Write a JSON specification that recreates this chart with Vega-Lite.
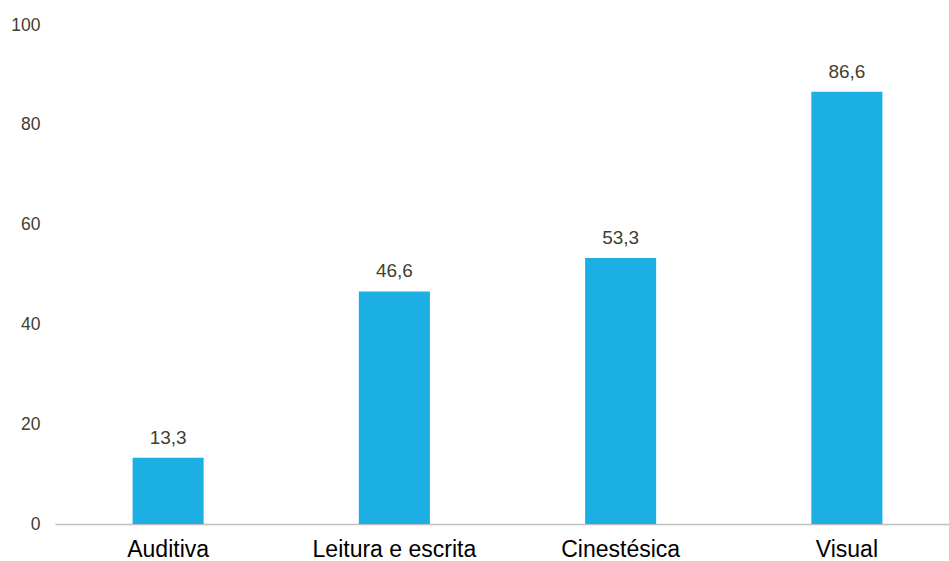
{
  "$schema": "https://vega.github.io/schema/vega-lite/v6.json",
  "autosize": "none",
  "width": 905,
  "height": 499,
  "padding": {"left": 55, "top": 25, "right": 0, "bottom": 37},
  "background": "white",
  "config": {
    "view": {"stroke": null},
    "font": "Liberation Sans",
    "locale": {
      "number": {"decimal": ",", "thousands": ".", "grouping": [3], "currency": ["", ""]}
    }
  },
  "data": {
    "values": [
      {"estilo": "Auditiva", "pct": 13.3},
      {"estilo": "Leitura e escrita", "pct": 46.6},
      {"estilo": "Cinestésica", "pct": 53.3},
      {"estilo": "Visual", "pct": 86.6}
    ]
  },
  "encoding": {
    "x": {
      "field": "estilo",
      "type": "nominal",
      "sort": null,
      "scale": {"paddingInner": 0.686, "paddingOuter": 0.343},
      "axis": {
        "title": null,
        "labelAngle": 0,
        "labelFontSize": 23,
        "labelColor": "#000000",
        "labelPadding": 14,
        "ticks": false,
        "domainColor": "#BFBFBF",
        "domainWidth": 1.5
      }
    },
    "y": {
      "field": "pct",
      "type": "quantitative",
      "scale": {"domain": [0, 100]},
      "axis": {
        "title": null,
        "values": [0, 20, 40, 60, 80, 100],
        "grid": false,
        "domain": false,
        "ticks": false,
        "labelFontSize": 17.5,
        "labelColor": "#3F3F2F",
        "labelPadding": 15
      }
    }
  },
  "layer": [
    {"mark": {"type": "bar", "color": "#1CAFE4"}},
    {
      "mark": {"type": "text", "baseline": "bottom", "dy": -10, "fontSize": 19, "color": "#3F3F2F"},
      "encoding": {"text": {"field": "pct", "type": "quantitative", "format": ".1f"}}
    }
  ]
}
